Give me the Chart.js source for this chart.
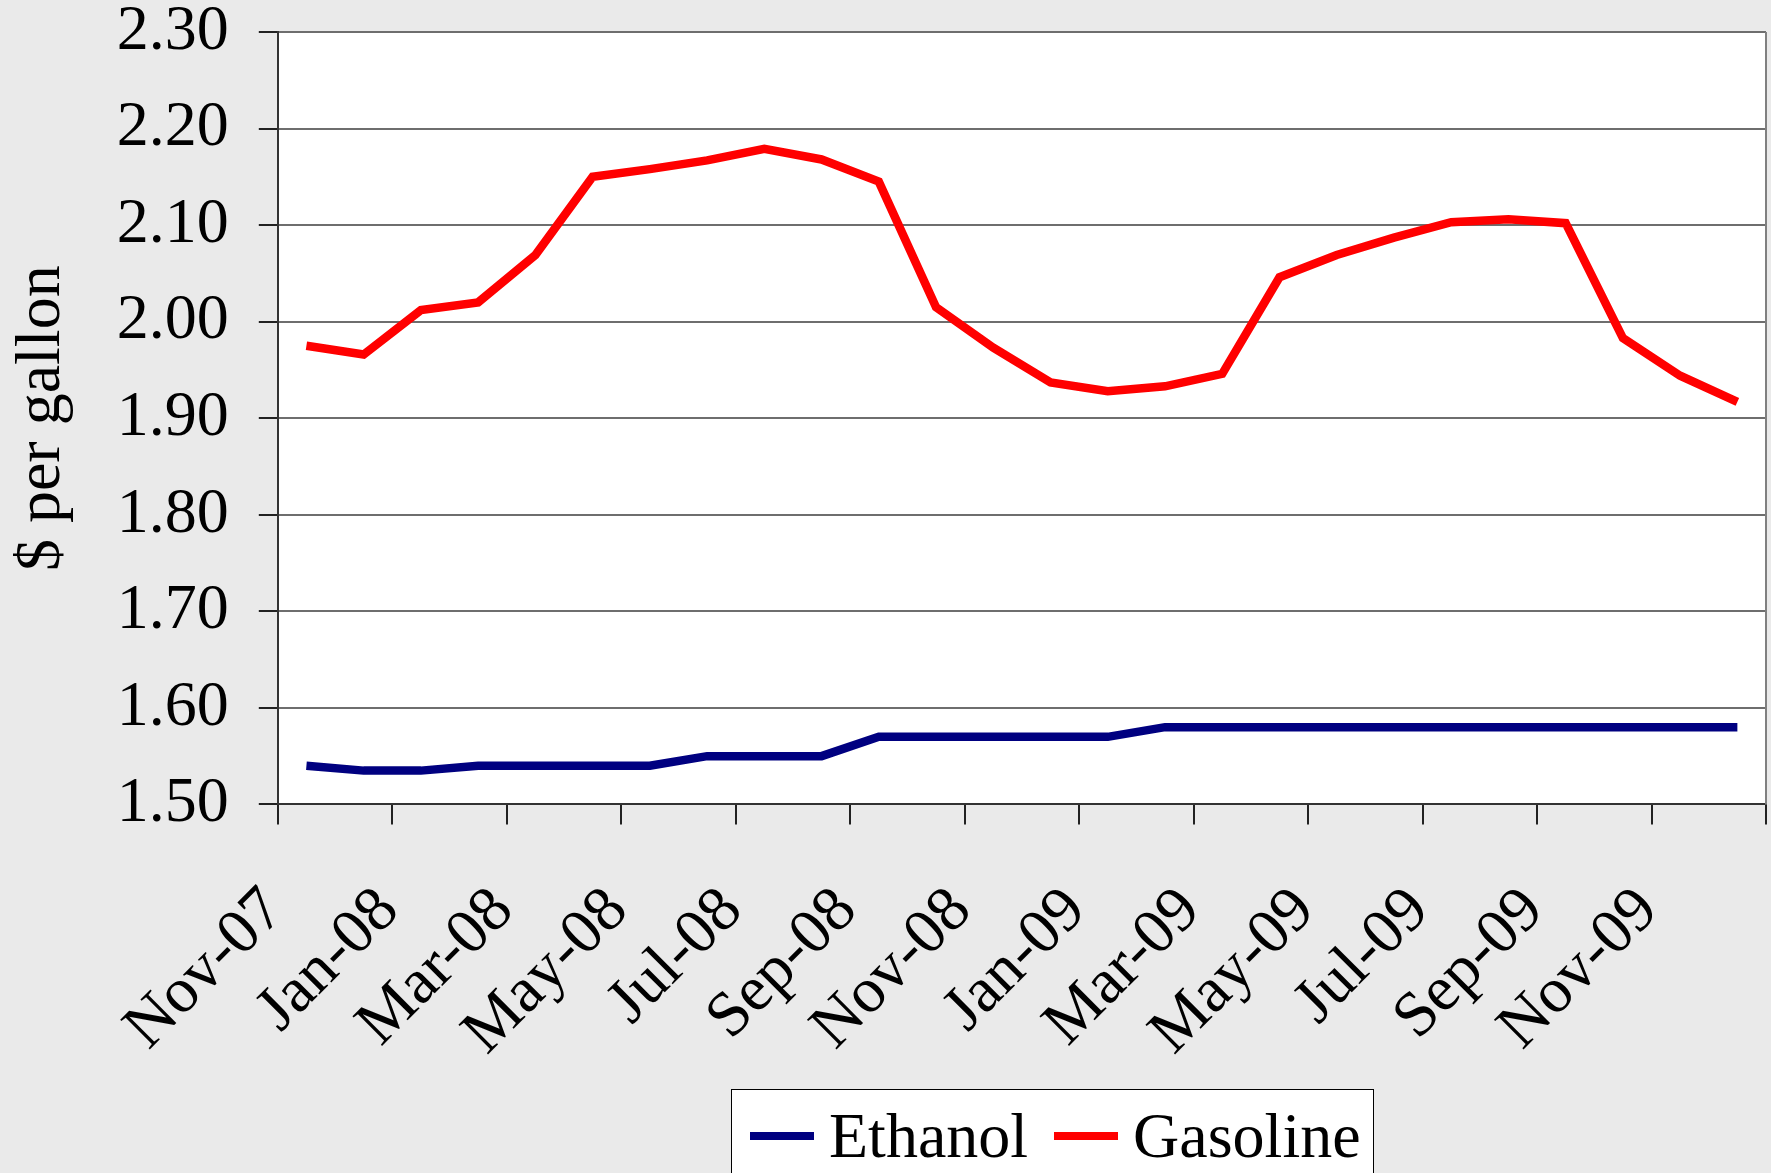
<!DOCTYPE html>
<html>
<head>
<meta charset="utf-8">
<script src="https://cdn.jsdelivr.net/npm/chart.js@4.4.1/dist/chart.umd.min.js"></script>
<style>
  html, body { margin: 0; padding: 0; background: #eaeaea; overflow: hidden; }
  #wrap { position: relative; width: 1771px; height: 1173px; }
  #legend {
    position: absolute; left: 731px; top: 1089px; width: 643px; height: 120px;
    box-sizing: border-box; border: 1.5px solid #000; background: #fff;
    display: flex; align-items: flex-start; padding: 14px 0 0 18px;
  }
  .item { display: flex; align-items: center; height: 64px; margin-right: 26px; }
  .swatch { width: 64px; height: 8px; margin-right: 15px; }
  .lbl { font: 64px "Liberation Serif", "Times New Roman", serif; line-height: 64px; color: #000; }
</style>
</head>
<body>
<div id="wrap">
  <canvas id="priceChart" width="1771" height="1173"></canvas>
  <div id="legend"></div>
</div>
<script>
// months on the x axis (one point per month), every other one gets a label
const months = [
  'Nov-07', 'Dec-07', 'Jan-08', 'Feb-08', 'Mar-08', 'Apr-08', 'May-08', 'Jun-08', 'Jul-08',
  'Aug-08', 'Sep-08', 'Oct-08', 'Nov-08', 'Dec-08', 'Jan-09', 'Feb-09', 'Mar-09', 'Apr-09',
  'May-09', 'Jun-09', 'Jul-09', 'Aug-09', 'Sep-09', 'Oct-09', 'Nov-09', 'Dec-09'
];
// $ per gallon
const ethanol = [
  1.54, 1.535, 1.535, 1.54, 1.54, 1.54, 1.54, 1.55, 1.55, 1.55, 1.57, 1.57, 1.57,
  1.57, 1.57, 1.58, 1.58, 1.58, 1.58, 1.58, 1.58, 1.58, 1.58, 1.58, 1.58, 1.58
];
const gasoline = [
  1.975, 1.966, 2.012, 2.020, 2.069, 2.150, 2.158, 2.167, 2.179, 2.168, 2.145, 2.015, 1.973,
  1.937, 1.928, 1.933, 1.946, 2.046, 2.069, 2.087, 2.103, 2.106, 2.102, 1.983, 1.944, 1.917
];
const yMin = 1.5, yMax = 2.3, yStep = 0.1;

const serif = '"Liberation Serif", "Times New Roman", serif';
Chart.defaults.font.family = serif;
Chart.defaults.color = '#000';

// each month sits in the middle of its slot, tick marks on the slot edges
function toPoints(arr) {
  return arr.map((v, i) => ({ x: i + 0.5, y: v }));
}

// white plot area + grey frame on the right
const plotFrame = {
  id: 'plotFrame',
  beforeDraw(chart) {
    const { ctx, chartArea: a } = chart;
    ctx.save();
    ctx.fillStyle = '#ffffff';
    ctx.fillRect(a.left, a.top, a.right - a.left, a.bottom - a.top);
    ctx.restore();
  },
  afterDraw(chart) {
    const { ctx, chartArea: a } = chart;
    ctx.save();
    ctx.strokeStyle = '#808080';
    ctx.lineWidth = 2;
    ctx.beginPath();
    ctx.moveTo(a.right, a.top);
    ctx.lineTo(a.right, a.bottom);
    ctx.stroke();
    ctx.restore();
  }
};

const ctx = document.getElementById('priceChart').getContext('2d');
const chart = new Chart(ctx, {
  type: 'line',
  data: {
    datasets: [
      {
        label: 'Ethanol',
        data: toPoints(ethanol),
        borderColor: '#000080',
        backgroundColor: '#000080',
        borderWidth: 8.5,
        pointRadius: 0,
        tension: 0
      },
      {
        label: 'Gasoline',
        data: toPoints(gasoline),
        borderColor: '#ff0000',
        backgroundColor: '#ff0000',
        borderWidth: 8.5,
        pointRadius: 0,
        tension: 0
      }
    ]
  },
  plugins: [plotFrame],
  options: {
    responsive: false,
    animation: false,
    layout: { padding: { left: 0, top: 0, right: 5, bottom: 53 } },
    plugins: {
      legend: { display: false },
      tooltip: { enabled: false }
    },
    scales: {
      x: {
        type: 'linear',
        min: 0,
        max: months.length,
        grid: { drawOnChartArea: false, tickLength: 20, tickColor: '#222', lineWidth: 2 },
        border: { color: '#333', width: 2 },
        ticks: {
          stepSize: 2,
          autoSkip: false,
          minRotation: 45,
          maxRotation: 45,
          padding: 49,
          labelOffset: -3,
          font: { size: 64, lineHeight: 1.2 },
          callback: (v) => (v < months.length ? months[v] : '')
        },
        // last slot has no label, so no room needed on the right
        afterFit: (scale) => { scale.paddingRight = 0; }
      },
      y: {
        min: yMin,
        max: yMax,
        grid: { color: '#6e6e6e', lineWidth: 2, tickLength: 19, tickColor: '#222' },
        border: { color: '#333', width: 2 },
        ticks: {
          stepSize: yStep,
          padding: 30,
          font: { size: 64, lineHeight: 1 },
          callback: (v) => v.toFixed(2)
        },
        title: {
          display: true,
          text: '$ per gallon',
          font: { size: 64, lineHeight: 1.2 },
          padding: { top: 4, bottom: 6 }
        },
        // keep the top label flush with the canvas edge
        afterFit: (scale) => { scale.paddingTop = 32; scale.paddingBottom = 32; }
      }
    }
  }
});

// legend box under the plot, built from the datasets
const legendBox = document.getElementById('legend');
chart.data.datasets.forEach((ds) => {
  const item = document.createElement('span');
  item.className = 'item';
  const sw = document.createElement('span');
  sw.className = 'swatch';
  sw.style.background = ds.borderColor;
  const lbl = document.createElement('span');
  lbl.className = 'lbl';
  lbl.textContent = ds.label;
  item.appendChild(sw);
  item.appendChild(lbl);
  legendBox.appendChild(item);
});
</script>
</body>
</html>
